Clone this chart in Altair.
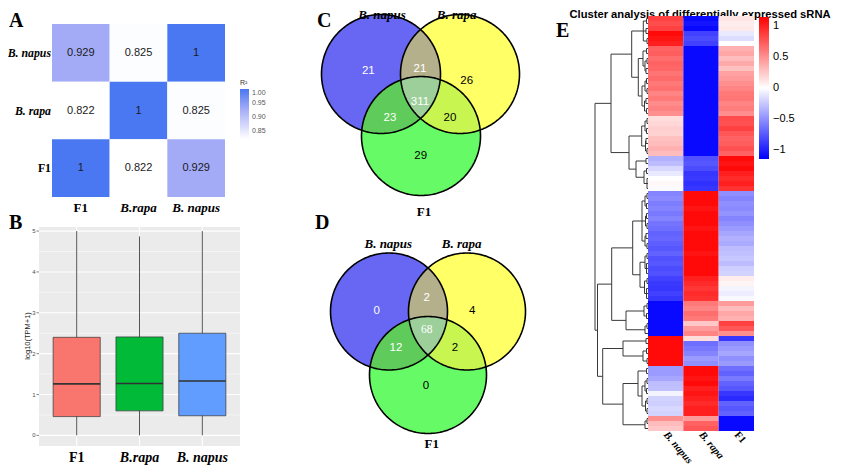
import altair as alt
import numpy as np
import pandas as pd

OFF = 8  # page margin: canvas = screen - 8
SERIF = "Liberation Serif"
SANS = "Liberation Sans"

# ---------------- Panel A data ----------------
A_ROWS = ["B. napus", "B. rapa", "F1"]          # top -> bottom
A_COLS = ["F1", "B.rapa", "B. napus"]           # left -> right
A_R2 = [[0.929, 0.825, 1.0], [0.822, 1.0, 0.825], [1.0, 0.822, 0.929]]
A_R2_TEXT = [["0.929", "0.825", "1"], ["0.822", "1", "0.825"], ["1", "0.822", "0.929"]]
A_LEGEND_VALUES = [0.85, 0.90, 0.95, 1.00]

# ---------------- Panel B data ----------------
B_GROUPS = ["F1", "B.rapa", "B. napus"]
B_LOW = [0.0, 0.0, 0.0]
B_Q1 = [0.46, 0.60, 0.48]
B_MEDIAN = [1.26, 1.27, 1.33]
B_Q3 = [2.40, 2.41, 2.50]
B_HIGH = [5.00, 4.87, 5.00]
B_FILLS = ["#f8766d", "#00ba38", "#619cff"]
B_TICKS = [0, 1, 2, 3, 4, 5]
B_MINOR = [0.5, 1.5, 2.5, 3.5, 4.5]

# ---------------- Panels C / D data ----------------
VENN_SETS = ["B. napus", "B. rapa", "F1"]
VENN_REGIONS = ["napus", "rapa", "F1", "napus&rapa", "napus&F1", "rapa&F1", "all"]
C_COUNTS = [21, 26, 29, 21, 23, 20, 311]
D_COUNTS = [0, 4, 0, 2, 12, 2, 68]
VENN_FILLS = ["#6767f3", "#ffff66", "#66fa66", "#b5b08c", "#5ecb5a", "#c8f550", "#9ccf9a"]
VENN_TEXT_COLORS = ["white", "black", "black", "white", "white", "black", "white"]

# ---------------- Panel E data ----------------
E_COLS = ["B. napus", "B. rapa", "F1"]
E_NAPUS = [0.85, 0.8, 0.85, 1.1, 1.05, 1.0,
           0.7, 0.72, 0.65, 0.7, 0.68, 0.62, 0.66, 0.6, 0.64, 0.55, 0.6, 0.52, 0.56, 0.5,
           0.15, 0.18, 0.22, 0.2, 0.28, 0.3, 0.35, 0.3,
           -0.35, -0.3, -0.18, -0.1, 0.0, 0.03, -0.02,
           -0.55, -0.52, -0.58, -0.55, -0.6, -0.55, -0.62, -0.65, -0.7, -0.68, -0.72, -0.75, -0.7, -0.78, -0.75, -0.8, -0.78,
           -0.85, -0.88, -0.9, -0.85, -0.9,
           -1.1, -1.1, -1.1, -1.1,
           -1.1, -1.1, -1.1,
           1.1, 1.1, 1.1, 1.1, 1.1, 1.1,
           -0.45, -0.45, -0.4, -0.3, -0.28, -0.05, -0.2, -0.22, -0.18, -0.2,
           0.5, 0.3, 0.25]
E_RAPA = [-1.1, -1.05, -1.1, -0.85, -0.8, -0.85,
          -1.1, -1.1, -1.1, -1.1, -1.1, -1.1, -1.1, -1.1, -1.1, -1.1, -1.1, -1.1, -1.1, -1.1,
          -1.1, -1.1, -1.1, -1.1, -1.1, -1.1, -1.1, -1.1,
          -0.78, -0.75, -0.8, -0.9, -0.88, -0.92, -0.9,
          1.1, 1.1, 1.1, 1.05, 1.1, 1.1, 1.1, 1.05, 1.1, 1.1, 1.1, 1.1, 1.05, 1.1, 1.1, 1.1, 1.1,
          1.0, 0.95, 0.9, 0.95, 0.92,
          0.6, 0.55, 0.65, 0.6,
          0.25, 0.45, 0.55,
          0.15, -0.65, -0.6, -0.55, -0.45, -0.5,
          1.1, 1.1, 1.05, 1.1, 1.0, 1.05, 1.0, 0.95, 1.0, 1.0,
          0.45, 0.7, 0.75]
E_F1 = [0.12, 0.08, 0.1, -0.1, -0.15, 0.0,
        0.35, 0.4, 0.3, 0.38, 0.28, 0.42, 0.45, 0.5, 0.55, 0.6, 0.62, 0.55, 0.58, 0.5,
        0.8, 0.78, 0.85, 0.75, 0.7, 0.72, 0.78, 0.7,
        1.1, 1.05, 1.1, 1.0, 0.95, 1.0, 0.92,
        -0.5, -0.55, -0.5, -0.52, -0.48, -0.55, -0.5, -0.45, -0.4, -0.35, -0.38, -0.3, -0.28, -0.25, -0.3, -0.22, -0.2,
        0.08, 0.05, -0.05, -0.08, -0.03,
        0.45, 0.3, 0.4, 0.35,
        0.85, 0.75, 0.5,
        -0.9, -0.5, -0.45, -0.4, -0.5, -0.45,
        -0.65, -0.7, -0.6, -0.7, -0.75, -0.9, -0.95, -0.7, -0.75, -0.7,
        -1.1, -1.1, -1.1]
E_LEGEND_VALUES = [-1, -0.5, 0, 0.5, 1]

# dendrogram (leaves 'o' in row order, "(children)height")
def join(h, *kids):
    return "(" + "".join(kids) + ")" + str(h)

E_B1 = "((oo)1.5(oo)2(oo)1)4.7"
E_B2 = "(((oo)1.5((oo)1(oo)2)3)5(((oo)1.5(oo)1)3((oo)2(oo)1.5)3.5)6)9.7"
E_B3 = "(((oo)1(oo)1.5)3((oo)2(oo)1)2.5)6.3"
E_B4 = "((oo)2((oo)1.5(ooo)1)4)12"
E_B5A = "(((oo)1(oo)1.5)3((oo)1.5(oo)1)2.5((oo)2(oo)1)3)6"
E_B5B = "(((oo)1(ooo)1.5)3((oo)1(ooo)1.5)3.5)8"
E_B7 = "((oo)1(oo)1.5)4"
E_B8 = "((oo)1o)3"
E_B9 = "((oo)2((oo)1.5(oo)1)5)25"
E_B10 = "((oo)1.5(((oo)1(oo)1.5)3((oo)1(oo)1)2.5)6)10"
E_B11 = "((oo)1o)3"
E_TREE = join(53,
              join(37, join(16.3, E_B1, E_B2), join(19, E_B3, E_B4)),
              join(50.5,
                   join(36.3, join(15.3, E_B5A, E_B5B), join(22, E_B7, E_B8)),
                   join(45.3, E_B9, join(25, E_B10, E_B11))))


def tree_segments(s):
    pos = [0]
    leaf = [0]
    segs = []

    def node():
        if s[pos[0]] == "o":
            pos[0] += 1
            i = leaf[0]
            leaf[0] += 1
            return 0.0, i + 0.5
        pos[0] += 1  # '('
        kids = []
        while s[pos[0]] != ")":
            kids.append(node())
        pos[0] += 1
        j = pos[0]
        while pos[0] < len(s) and s[pos[0]] in "0123456789.":
            pos[0] += 1
        h = float(s[j:pos[0]])
        ys = [k[1] for k in kids]
        segs.append((h, h, min(ys), max(ys)))
        for kh, ky in kids:
            segs.append((kh, h, ky, ky))
        return h, (min(ys) + max(ys)) / 2

    node()
    return pd.DataFrame(segs, columns=["x1", "x2", "y1", "y2"])


# ---------------- helpers ----------------
def qscale(dom, a, b):
    return alt.Scale(domain=dom, range=[a - OFF, b - OFF], nice=False, zero=False)


def pv(v):
    return alt.value(v - OFF)


layers = []

# ================= Panel A =================
AX = lambda: qscale([0, 3], 52, 225)
AY = lambda: qscale([0, 3], 24, 197)
a_df = pd.DataFrame([{"r": i, "c": j, "v": A_R2[i][j], "t": A_R2_TEXT[i][j]}
                     for i in range(3) for j in range(3)])
a_df["r2"] = a_df.r + 1
a_df["c2"] = a_df.c + 1
a_df["rc"] = a_df.r + 0.5
a_df["cc"] = a_df.c + 0.5

layers.append(alt.Chart(a_df).mark_rect().encode(
    x=alt.X("c:Q", scale=AX(), axis=None), x2="c2:Q",
    y=alt.Y("r:Q", scale=AY(), axis=None), y2="r2:Q",
    color=alt.Color("v:Q",
                    scale=alt.Scale(domain=[0.822, 0.929, 1.0],
                                    range=["#ffffff", "#a3abf7", "#4a78f2"], interpolate="rgb"),
                    legend=alt.Legend(orient="none", legendX=232, legendY=71, title="R²",
                                      titleFontSize=7, titleFontWeight="normal", titleColor="#333",
                                      titleFont=SANS, titlePadding=3,
                                      gradientLength=50, gradientThickness=9, gradientStrokeWidth=0,
                                      values=A_LEGEND_VALUES, format=".2f", labelFontSize=7,
                                      labelColor="#555", labelFont=SANS, labelOffset=3))))
layers.append(alt.Chart(a_df).mark_text(font=SANS, fontSize=11, color="#1a1a1a").encode(
    x=alt.X("cc:Q", scale=AX(), axis=None), y=alt.Y("rc:Q", scale=AY(), axis=None), text="t:N"))

a_rows = pd.DataFrame({"name": A_ROWS, "pos": [0.5, 1.5, 2.5]})
a_cols = pd.DataFrame({"name": A_COLS, "pos": [0.5, 1.5, 2.5]})
for sub, style in [(a_rows[a_rows.name != "F1"], "italic"), (a_rows[a_rows.name == "F1"], "normal")]:
    layers.append(alt.Chart(sub).mark_text(font=SERIF, fontSize=11.8, fontWeight="bold", fontStyle=style,
                                           align="right", color="black").encode(
        x=pv(51), y=alt.Y("pos:Q", scale=AY(), axis=None), text="name:N"))
for sub, style in [(a_cols[a_cols.name != "F1"], "italic"), (a_cols[a_cols.name == "F1"], "normal")]:
    layers.append(alt.Chart(sub).mark_text(font=SERIF, fontSize=13, fontWeight="bold", fontStyle=style,
                                           baseline="alphabetic", color="black").encode(
        x=alt.X("pos:Q", scale=AX(), axis=None), y=pv(212), text="name:N"))

# ================= Panel B =================
B_XDOM = [0.4, 3.6]
B_YDOM = [-0.26, 5.1]
BX = lambda: qscale(B_XDOM, 39, 240)
BY = lambda: qscale(B_YDOM, 446, 227)
b_df = pd.DataFrame({"g": B_GROUPS, "i": [1, 2, 3], "low": B_LOW, "q1": B_Q1, "med": B_MEDIAN,
                     "q3": B_Q3, "high": B_HIGH, "fill": B_FILLS})
b_df["l"] = b_df.i - 0.375
b_df["r"] = b_df.i + 0.375
panel = pd.DataFrame({"x0": [B_XDOM[0]], "x1": [B_XDOM[1]], "y0": [B_YDOM[0]], "y1": [B_YDOM[1]]})
layers.append(alt.Chart(panel).mark_rect(color="#ebebeb").encode(
    x=alt.X("x0:Q", scale=BX(), axis=None), x2="x1:Q",
    y=alt.Y("y0:Q", scale=BY(), axis=None), y2="y1:Q"))
minor = pd.DataFrame({"t": B_MINOR, "x0": B_XDOM[0], "x1": B_XDOM[1]})
major = pd.DataFrame({"t": B_TICKS, "x0": B_XDOM[0], "x1": B_XDOM[1]})
layers.append(alt.Chart(minor).mark_rule(color="white", strokeWidth=0.5).encode(
    x=alt.X("x0:Q", scale=BX(), axis=None), x2="x1:Q", y=alt.Y("t:Q", scale=BY(), axis=None)))
layers.append(alt.Chart(major).mark_rule(color="white", strokeWidth=1.1).encode(
    x=alt.X("x0:Q", scale=BX(), axis=None), x2="x1:Q", y=alt.Y("t:Q", scale=BY(), axis=None)))
vgrid = pd.DataFrame({"i": [1, 2, 3], "y0": B_YDOM[0], "y1": B_YDOM[1]})
layers.append(alt.Chart(vgrid).mark_rule(color="white", strokeWidth=1.1).encode(
    x=alt.X("i:Q", scale=BX(), axis=None), y=alt.Y("y0:Q", scale=BY(), axis=None), y2="y1:Q"))
layers.append(alt.Chart(b_df).mark_rule(color="#555555", strokeWidth=1).encode(
    x=alt.X("i:Q", scale=BX(), axis=None), y=alt.Y("low:Q", scale=BY(), axis=None), y2="high:Q"))
layers.append(alt.Chart(b_df).mark_rect(stroke="#333333", strokeWidth=0.7).encode(
    x=alt.X("l:Q", scale=BX(), axis=None), x2="r:Q",
    y=alt.Y("q1:Q", scale=BY(), axis=None), y2="q3:Q",
    color=alt.Color("fill:N", scale=None)))
layers.append(alt.Chart(b_df).mark_rule(color="#333333", strokeWidth=1.6).encode(
    x=alt.X("l:Q", scale=BX(), axis=None), x2="r:Q", y=alt.Y("med:Q", scale=BY(), axis=None)))
layers.append(alt.Chart(major).mark_rule(color="#333333", strokeWidth=0.6).encode(
    x=pv(36.5), x2=pv(39), y=alt.Y("t:Q", scale=BY(), axis=None)))
layers.append(alt.Chart(major).mark_text(font=SANS, fontSize=6, color="#4d4d4d", align="right").encode(
    x=pv(35.5), y=alt.Y("t:Q", scale=BY(), axis=None), text="t:N"))
layers.append(alt.Chart(pd.DataFrame({"t": ["log10(TPM+1)"]})).mark_text(
    font=SANS, fontSize=7.5, color="#222", angle=270).encode(x=pv(28), y=pv(336), text="t:N"))
for sub, style in [(b_df[b_df.g != "F1"], "italic"), (b_df[b_df.g == "F1"], "normal")]:
    layers.append(alt.Chart(sub).mark_text(font=SERIF, fontSize=14, fontWeight="bold", fontStyle=style,
                                           baseline="alphabetic", color="black").encode(
        x=alt.X("i:Q", scale=BX(), axis=None), y=pv(462), text="g:N"))


# ================= Panels C / D =================
def venn_layers(counts, circles, origin, pos_x, pos_y, label_x, label_y, serif_counts):
    ox, oy = origin
    VX = lambda: qscale([0, 200], ox, ox + 200)
    VY = lambda: qscale([0, 200], oy, oy + 200)
    out = []

    def band(idx, reg, fill):
        cs = [circles[k] for k in idx]
        lo = max(c[0] - c[2] for c in cs)
        hi = min(c[0] + c[2] for c in cs)
        xx = np.linspace(lo, hi, 600)
        top = np.full_like(xx, -1e9)
        bot = np.full_like(xx, 1e9)
        for cx, cy, r in cs:
            h = np.sqrt(np.clip(r * r - (xx - cx) ** 2, 0, None))
            top = np.maximum(top, cy - h)
            bot = np.minimum(bot, cy + h)
        m = bot >= top
        return pd.DataFrame({"x": xx[m], "t": top[m], "b": bot[m], "reg": reg, "fill": fill})

    stages = [
        [([0], 0), ([1], 1), ([2], 2)],
        [([0, 1], 3), ([0, 2], 4), ([1, 2], 5)],
        [([0, 1, 2], 6)],
    ]
    for st in stages:
        df = pd.concat([band(idx, VENN_REGIONS[k], VENN_FILLS[k]) for idx, k in st])
        out.append(alt.Chart(df).mark_area().encode(
            x=alt.X("x:Q", scale=VX(), axis=None),
            y=alt.Y("t:Q", scale=VY(), axis=None), y2="b:Q",
            color=alt.Color("fill:N", scale=None), detail="reg:N"))
    th = np.linspace(0, 2 * np.pi, 241)
    odf = pd.concat([pd.DataFrame({"x": c[0] + c[2] * np.cos(th), "y": c[1] + c[2] * np.sin(th),
                                   "k": np.arange(len(th)), "c": VENN_SETS[n]})
                     for n, c in enumerate(circles)])
    out.append(alt.Chart(odf).mark_line(color="black", strokeWidth=1.6).encode(
        x=alt.X("x:Q", scale=VX(), axis=None), y=alt.Y("y:Q", scale=VY(), axis=None),
        detail="c:N", order="k:Q"))
    cdf = pd.DataFrame({"n": [str(v) for v in counts], "x": pos_x, "y": pos_y,
                        "col": VENN_TEXT_COLORS, "serif": serif_counts})
    for flag, font in [(False, SANS), (True, SERIF)]:
        sub = cdf[cdf.serif == flag]
        if len(sub):
            out.append(alt.Chart(sub).mark_text(font=font, fontSize=11.5).encode(
                x=alt.X("x:Q", scale=VX(), axis=None), y=alt.Y("y:Q", scale=VY(), axis=None),
                text="n:N", color=alt.Color("col:N", scale=None)))
    ldf = pd.DataFrame({"name": VENN_SETS, "x": label_x, "y": label_y})
    for sub, style in [(ldf[ldf.name != "F1"], "italic"), (ldf[ldf.name == "F1"], "normal")]:
        out.append(alt.Chart(sub).mark_text(font=SERIF, fontSize=13, fontWeight="bold", fontStyle=style,
                                            baseline="alphabetic", color="black").encode(
            x=alt.X("x:Q", scale=VX(), axis=None), y=alt.Y("y:Q", scale=VY(), axis=None), text="name:N"))
    return out


layers += venn_layers(C_COUNTS, [(60, 59, 59.5), (139, 59, 59.5), (100, 121, 59.5)], (321, 15),
                      [47.3, 145.7, 99.7, 99, 69, 129, 99], [55.7, 66, 140.7, 54, 103.3, 103.3, 87.3],
                      [61, 135.7, 103], [4, 4, 201],
                      [False] * 7)
layers += venn_layers(D_COUNTS, [(58.5, 58.5, 58.5), (136.5, 58.5, 58.5), (97.5, 122, 58.5)], (330.5, 253),
                      [46.2, 141.8, 95.5, 96.2, 65.5, 124.5, 96.2], [57.7, 57.7, 132.7, 45.3, 94.7, 94.7, 77],
                      [57.8, 131.2, 101.2], [-5, -5, 195],
                      [False, False, False, False, False, False, True])

# ================= Panel E =================
N_ROWS = len(E_NAPUS)
EX = lambda: qscale([0, 3], 648, 754)
EY = lambda: qscale([0, N_ROWS], 16, 431)
rows = []
for ci, vals in enumerate([E_NAPUS, E_RAPA, E_F1]):
    for ri, v in enumerate(vals):
        rows.append({"c": ci, "c2": ci + 1, "r": ri, "r2": ri + 1, "v": v})
e_df = pd.DataFrame(rows)

layers.append(alt.Chart(pd.DataFrame({"t": ["Cluster analysis of differentially expressed sRNA"]})).mark_text(
    font=SANS, fontSize=11.2, fontWeight="bold", color="black", baseline="alphabetic").encode(
    x=pv(700), y=pv(17.5), text="t:N"))
layers.append(alt.Chart(e_df).mark_rect().encode(
    x=alt.X("c:Q", scale=EX(), axis=None), x2="c2:Q",
    y=alt.Y("r:Q", scale=EY(), axis=None), y2="r2:Q",
    color=alt.Color("v:Q",
                    scale=alt.Scale(domain=[-1.14, 0, 1.14], range=["#0000ff", "#ffffff", "#ff0000"],
                                    interpolate="rgb"),
                    legend=alt.Legend(orient="none", legendX=751, legendY=9, title=None,
                                      gradientLength=142, gradientThickness=10, gradientStrokeWidth=0,
                                      values=E_LEGEND_VALUES, format="~g", labelFontSize=11,
                                      labelColor="black", labelFont=SANS, labelOffset=4))))
seg = tree_segments(E_TREE)
layers.append(alt.Chart(seg).mark_rule(color="#3a3a3a", strokeWidth=1).encode(
    x=alt.X("x1:Q", scale=qscale([0, 55], 648, 593), axis=None), x2="x2:Q",
    y=alt.Y("y1:Q", scale=EY(), axis=None), y2="y2:Q"))
e_cols = pd.DataFrame({"name": E_COLS, "pos": [0.5, 1.5, 2.5]})
for sub, style in [(e_cols[e_cols.name != "F1"], "italic"), (e_cols[e_cols.name == "F1"], "normal")]:
    layers.append(alt.Chart(sub).mark_text(font=SERIF, fontSize=10.5, fontWeight="bold", fontStyle=style,
                                           align="left", baseline="middle", angle=50, color="black").encode(
        x=alt.X("pos:Q", scale=EX(), axis=None), y=pv(433), text="name:N"))

# ================= panel letters =================
PANEL_LETTERS = ["A", "B", "C", "D", "E"]
LETTER_X = [9, 9, 317, 315, 556]
LETTER_Y = [27, 229, 27, 229, 37]
for s, lx, ly in zip(PANEL_LETTERS, LETTER_X, LETTER_Y):
    layers.append(alt.Chart(pd.DataFrame({"t": [s]})).mark_text(
        font=SERIF, fontSize=20, fontWeight="bold", color="black", align="left", baseline="alphabetic").encode(
        x=pv(lx), y=pv(ly), text="t:N"))

chart = alt.layer(*layers).resolve_scale(
    x="independent", y="independent", color="independent"
).properties(
    width=834, height=459, padding=0, autosize=alt.AutoSizeParams(type="none")
).configure_view(strokeWidth=0)

chart.save("out.html", embed_options={"renderer": "svg", "actions": False})
